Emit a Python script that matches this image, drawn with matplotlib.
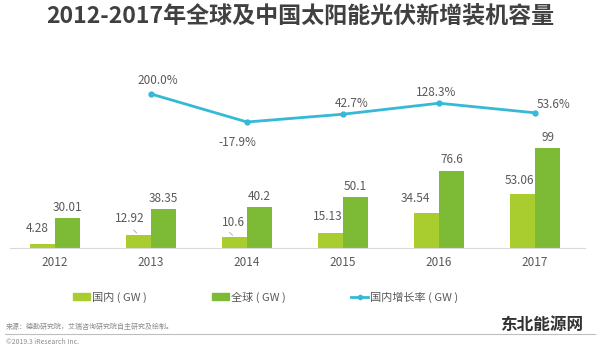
import numpy as np
import matplotlib
matplotlib.use('Agg')
from matplotlib import pyplot as plt
from matplotlib.lines import Line2D
from matplotlib.patches import Patch

plt.rcParams['font.family'] = ['Noto Sans CJK SC', 'DejaVu Sans']

years = ['2012', '2013', '2014', '2015', '2016', '2017']
domestic = [4.28, 12.92, 10.6, 15.13, 34.54, 53.06]
world = [30.01, 38.35, 40.2, 50.1, 76.6, 99]
growth_years = ['2013', '2014', '2015', '2016', '2017']
growth = [200.0, -17.9, 42.7, 128.3, 53.6]

c_dom = '#a9cc2e'
c_world = '#7dbb37'
c_line = '#35b9d6'
c_text = '#595959'

W, H = 600, 351
fig = plt.figure(figsize=(W / 100, H / 100), dpi=100)
fig.patch.set_facecolor('white')

def fx(px):
    return px / W

def fy(py):
    return 1 - py / H

ax = fig.add_axes([fx(10), fy(248), fx(575), fy(40) - fy(248)])
ax.set_facecolor('none')
x = np.arange(len(years))
bw = 0.26
ax.bar(x - bw / 2, domestic, bw, color=c_dom, zorder=2)
ax.bar(x + bw / 2, world, bw, color=c_world, zorder=2)
ax.set_xlim(-0.469, 5.52)
ax.set_ylim(0, 206)
for s in ['top', 'right', 'left']:
    ax.spines[s].set_visible(False)
ax.spines['bottom'].set_color('#d9d9d9')
ax.set_yticks([])
ax.set_xticks(x)
ax.set_xticklabels(years, fontsize=8.5, color=c_text)
ax.tick_params(axis='x', length=0, pad=6)

# domestic labels (slightly left, with leader lines)
dom_off = [(-4, 6), (-6, 7), (-1, 6), (-2, 7), (-8, 6), (-2, 5)]
for i, v in enumerate(domestic):
    ax.annotate(str(v), (x[i] - bw / 2, v), xytext=dom_off[i], textcoords='offset points',
                ha='center', va='bottom', fontsize=8.5, color=c_text)
for i in [1, 2]:
    ax.annotate('', (x[i] - bw / 2, domestic[i]), xytext=(-5, 5), textcoords='offset points',
                arrowprops=dict(arrowstyle='-', color='#a6a6a6', lw=0.6))
for i, v in enumerate(world):
    ax.annotate('%g' % v, (x[i] + bw / 2, v), xytext=(0, 3), textcoords='offset points',
                ha='center', va='bottom', fontsize=8.5, color=c_text)

ax2 = ax.twinx()
ax2.set_ylim(-998, 620)
ax2.axis('off')
gx = [years.index(y) for y in growth_years]
ax2.plot(gx, growth, color=c_line, lw=2, marker='o', ms=3.5, zorder=3)
g_off = [(5, 5), (-7, -10), (6, 3), (-2, 3), (13, 1)]
for xi, v, off in zip(gx, growth, g_off):
    ax2.annotate('%.1f%%' % v, (xi, v), xytext=off, textcoords='offset points',
                 ha='center', va='bottom' if off[1] > 0 else 'top', fontsize=8.5, color=c_text)

fig.text(0.5, fy(16), '2012-2017年全球及中国太阳能光伏新增装机容量', ha='center', va='center',
         fontsize=16.6, fontweight='bold', color='#404040')

handles = [Patch(color=c_dom), Patch(color=c_world),
           Line2D([0], [0], color=c_line, lw=2, marker='o', ms=3)]
labels = ['国内 ( GW )', '全球 ( GW )', '国内增长率 ( GW )']
fig.legend(handles, labels, loc='center left', bbox_to_anchor=(fx(63), fy(297)), ncol=3,
           frameon=False, fontsize=8, labelcolor=c_text, handlelength=1.5, handleheight=0.5,
           handletextpad=0.2, columnspacing=5.9)

fig.text(fx(6), fy(327), '来源：德勤研究院，艾瑞咨询研究院自主研究及绘制。', fontsize=5,
         color='#8c8c8c', va='center')
fig.add_artist(Line2D([fx(5), fx(595)], [fy(334), fy(334)], color='#bfbfbf', lw=0.8))
fig.text(fx(6), fy(342), '©2019.3 iResearch Inc.', fontsize=5, color='#8c8c8c', va='center')
fig.text(fx(583), fy(325), '东北能源网', fontsize=12, color='#333333', ha='right',
         va='center', fontweight='bold')

fig.savefig('out.png', dpi=100)
